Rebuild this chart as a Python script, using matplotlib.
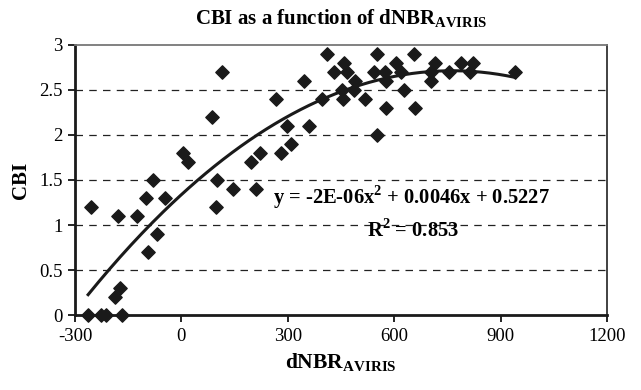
import numpy as np
import matplotlib
matplotlib.use("Agg")
import matplotlib.pyplot as plt

plt.rcParams['font.family'] = ['Liberation Serif', 'DejaVu Serif']
plt.rcParams['mathtext.fontset'] = 'custom'
plt.rcParams['mathtext.rm'] = 'Liberation Serif'
plt.rcParams['mathtext.bf'] = 'Liberation Serif:bold'
plt.rcParams['axes.unicode_minus'] = False

# dNBR (AVIRIS) vs CBI
dnbr = [-263, -227, -213, -167, -187, -173, -256, -178, -126, -101,
        -81, -46, -70, -95, 99, 98, 146, 210, 115, 87,
        4, 19, 196, 222, 280, 309, 299, 360, 267, 346,
        395, 410, 430, 459, 468, 490, 453, 455, 488, 519,
        551, 542, 573, 577, 577, 551, 604, 618, 655, 627,
        659, 716, 705, 705, 755, 788, 823, 815, 941]
cbi = [0, 0, 0, 0, 0.2, 0.3, 1.2, 1.1, 1.1, 1.3,
       1.5, 1.3, 0.9, 0.7, 1.5, 1.2, 1.4, 1.4, 2.7, 2.2,
       1.8, 1.7, 1.7, 1.8, 1.8, 1.9, 2.1, 2.1, 2.4, 2.6,
       2.4, 2.9, 2.7, 2.8, 2.7, 2.6, 2.5, 2.4, 2.5, 2.4,
       2.9, 2.7, 2.7, 2.6, 2.3, 2.0, 2.8, 2.7, 2.9, 2.5,
       2.3, 2.8, 2.7, 2.6, 2.7, 2.8, 2.8, 2.7, 2.7]

x_ticks = [-300, 0, 300, 600, 900, 1200]
y_ticks = [0, 0.5, 1, 1.5, 2, 2.5, 3]
eq_label = r'y = -2E-06x$^{\mathbf{2}}$ + 0.0046x + 0.5227'
r2_label = r'R$^{\mathbf{2}}$ = 0.853'

fig = plt.figure(figsize=(6.41, 3.90), dpi=100)
ax = fig.add_axes([0.117, 0.192, 0.830, 0.693])

# quadratic trend line fitted to the points
coef = np.polyfit(dnbr, cbi, 2)
xs = np.linspace(min(dnbr), max(dnbr), 200)
ax.plot(xs, np.polyval(coef, xs), color='#1a1a1a', lw=2.2, zorder=2)

ax.scatter(dnbr, cbi, marker='D', s=46, color='#1a1a1a', zorder=3, clip_on=False)

for yv in y_ticks[1:-1]:
    ax.axhline(yv, color='#222222', lw=0.9, ls=(0, (6, 5)), zorder=1)

ax.set_xlim(-300, 1200)
ax.set_ylim(0, 3)
ax.set_xticks(x_ticks)
ax.set_yticks(y_ticks)
ax.set_yticklabels(['0', '0.5', '1', '1.5', '2', '2.5', '3'])
ax.tick_params(direction='out', length=5, width=1.2, labelsize=13.5, pad=4)

for s in ['left', 'bottom']:
    ax.spines[s].set_linewidth(2.0)
    ax.spines[s].set_color('#1a1a1a')
ax.spines['top'].set_color('#777777')
ax.spines['top'].set_linewidth(1.3)
ax.spines['right'].set_color('#333333')
ax.spines['right'].set_linewidth(1.3)

ax.set_title(r'CBI as a function of dNBR$_{\mathbf{AVIRIS}}$', fontsize=15,
             fontweight='bold', pad=15)
ax.set_xlabel(r'dNBR$_{\mathbf{AVIRIS}}$', fontsize=15.5, fontweight='bold', labelpad=5)
ax.set_ylabel('CBI', fontsize=15, fontweight='bold', labelpad=6)

ax.text(258, 1.31, eq_label, fontsize=14.8, fontweight='bold', va='center', ha='left')
ax.text(523, 0.94, r2_label, fontsize=14.8, fontweight='bold', va='center', ha='left')

fig.savefig('out.png', dpi=100)
